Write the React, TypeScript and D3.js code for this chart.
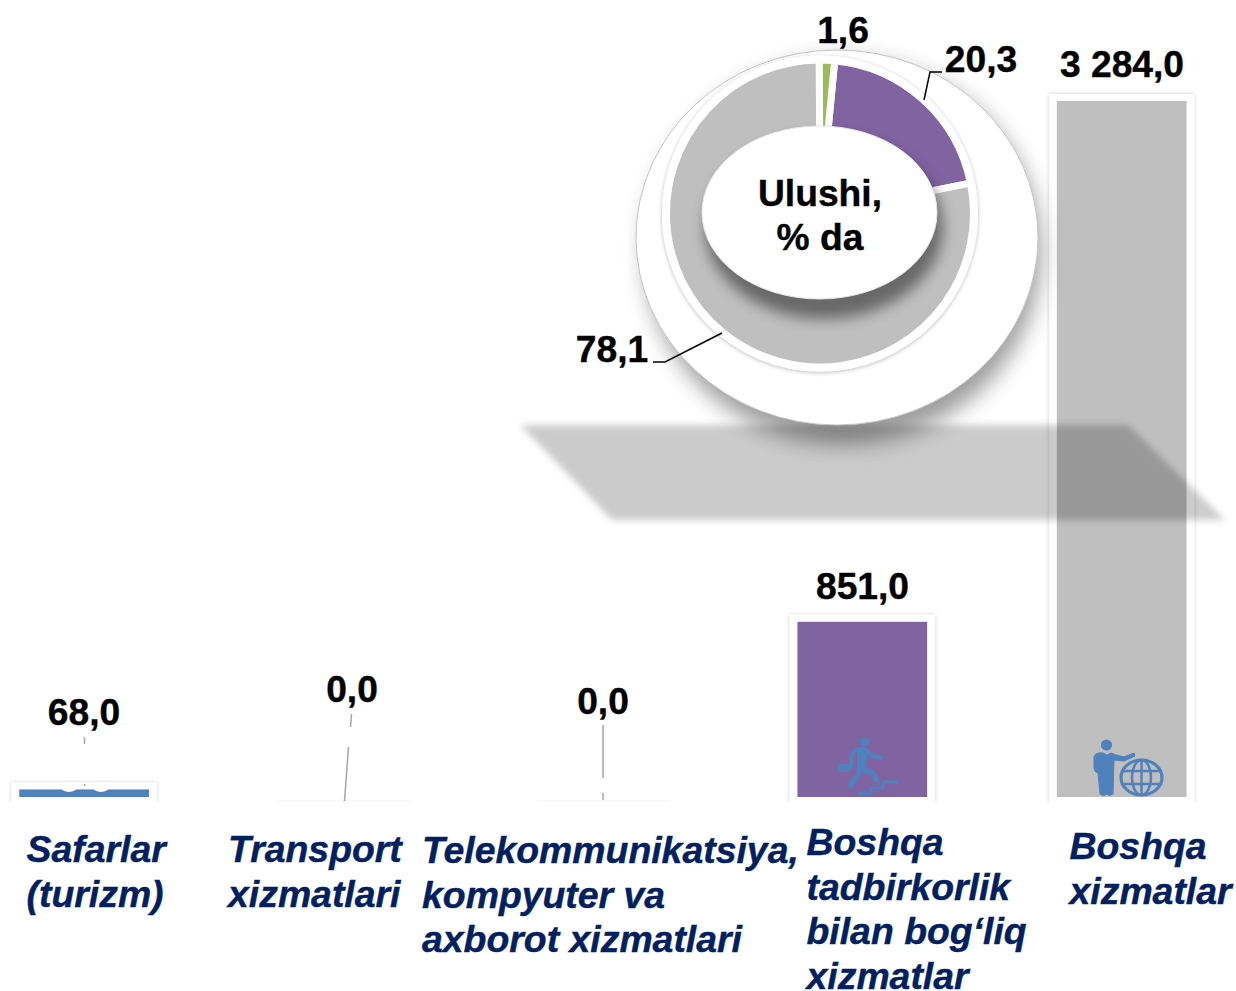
import React from "react";
import * as d3 from "d3";

const categories = ["Safarlar (turizm)", "Transport xizmatlari", "Telekommunikatsiya, kompyuter va axborot xizmatlari", "Boshqa tadbirkorlik bilan bog‘liq xizmatlar", "Boshqa xizmatlar"];
const values = [68.0, 0.0, 0.0, 851.0, 3284.0];
const valueLabels = ["68,0", "0,0", "0,0", "851,0", "3 284,0"];
const barColors = ["#4F81BD", "#BFBFBF", "#BFBFBF", "#8064A2", "#BFBFBF"];
const categoryLines = [["Safarlar", "(turizm)"], ["Transport", "xizmatlari"], ["Telekommunikatsiya,", "kompyuter va", "axborot xizmatlari"], ["Boshqa", "tadbirkorlik", "bilan bog‘liq", "xizmatlar"], ["Boshqa", "xizmatlar"]];
const shareNames = ["Boshqa tadbirkorlik", "Boshqa xizmatlar", "Safarlar"];
const shareValues = [20.3, 78.1, 1.6];
const shareColors = ["#8064A2", "#BFBFBF", "#9BBB59"];

const FONT = "'Liberation Sans', Arial, sans-serif";
const x = d3.scaleBand<string>().domain(categories).range([-45.6, 1251.4]).paddingInner(0.5).paddingOuter(0.25);
const y = d3.scaleLinear().domain([0, 3284]).range([804, 101]);
const pie = d3.pie<number>().sort(null).startAngle((5.5 * Math.PI) / 180).endAngle((365.5 * Math.PI) / 180);
const arc = d3.arc<d3.PieArcDatum<number>>().innerRadius(70).outerRadius(153.5);

const labelX = [84, 352, 603, 862.5, 1122];
const labelY = [725, 702, 714, 599, 77];
const catX = [26.5, 228, 422, 806.5, 1069.5];
const catY = [862, 862, 863, 855, 859];

export default function App() {
  const arcs = pie(shareValues);
  return (
    <svg width={1236} height={991} style={{ position: "absolute", left: 0, top: 0, background: "#fff" }} fontFamily={FONT}>
      <defs>
        <clipPath id="barClip"><rect x={0} y={0} width={1236} height={797} /></clipPath>
        <clipPath id="frameClip"><rect x={0} y={0} width={1236} height={802} /></clipPath>
        <filter id="frameShadow" x="-20%" y="-5%" width="140%" height="110%"><feDropShadow dx={0} dy={0} stdDeviation={2.2} floodColor="#000" floodOpacity={0.2} /></filter>
        <filter id="blurPlane" x="-5%" y="-15%" width="110%" height="130%"><feGaussianBlur stdDeviation={3.5} /></filter>
        <filter id="blurDisc" x="-20%" y="-20%" width="140%" height="140%"><feGaussianBlur stdDeviation={11} /></filter>
        <filter id="blurHole" x="-20%" y="-30%" width="140%" height="160%"><feGaussianBlur stdDeviation={7} /></filter>
        <filter id="rimShadow" x="-10%" y="-10%" width="120%" height="120%"><feDropShadow dx={0} dy={1} stdDeviation={2} floodColor="#000" floodOpacity={0.28} /></filter>
        <clipPath id="ringClip"><circle cx={820} cy={213.5} r={150} /></clipPath>
      </defs>

      <g clipPath="url(#frameClip)">
        {categories.map((c, i) => values[i] > 0 ? (
          <rect key={c} x={x(c)! - 7.5} y={y(values[i]) - 7} width={x.bandwidth() + 15} height={804 - y(values[i]) + 20} fill="#fff" filter="url(#frameShadow)" />
        ) : (
          <rect key={c} x={x(c)! - 1} y={800} width={x.bandwidth() + 2} height={2} fill="#f9f9f9" />
        ))}
      </g>
      <g clipPath="url(#barClip)">
        {categories.map((c, i) => (
          <rect key={c} x={x(c)!} y={y(values[i])} width={x.bandwidth()} height={804 - y(values[i])} fill={barColors[i]} />
        ))}
      </g>
      <ellipse cx={69} cy={787} rx={8} ry={5} fill="#fff" />
      <ellipse cx={101} cy={787} rx={8} ry={5} fill="#fff" />

      {/* icon: person climbing stairs */}
      <g fill="#4F81BD" stroke="#4F81BD" strokeLinecap="round" strokeLinejoin="round">
        <circle cx={864.5} cy={742} r={4.6} stroke="none" />
        <path d="M851 768 V758 Q853 749 860 749 L865 749 L873 756 L881 758" fill="none" strokeWidth={4} />
        <path d="M858 750 L867 750 L865 770 L858 770Z" strokeWidth={2} />
        <path d="M861 770 L856 778 L850 786" fill="none" strokeWidth={5} />
        <path d="M863 770 L872 772 L877 780" fill="none" strokeWidth={5} />
        <rect x={838.5} y={764} width={11} height={8} rx={1} stroke="none" />
        <path d="M860 793.5 H871 V788 H883 V782 H897" fill="none" strokeWidth={3} />
      </g>
      {/* icon: person with globe */}
      <g fill="#4F81BD" stroke="#4F81BD" strokeLinecap="round" strokeLinejoin="round">
        <circle cx={1106.5} cy={745} r={5.6} stroke="none" />
        <path d="M1096 754 Q1100 752 1103 753 L1107 755 L1111 753 L1116 755 L1124 757 L1134 753 L1135 756 L1124 761 L1114 760 L1113 794 Q1109 797 1107 794 Q1103 797 1100 794 L1098 773 Q1094 772 1094 768 L1094 757Z" strokeWidth={1} />
        <g fill="none" strokeWidth={2.4}>
          <ellipse cx={1141.5} cy={777.5} rx={20.5} ry={17.5} strokeWidth={3.2} />
          <ellipse cx={1141.5} cy={777.5} rx={9.5} ry={17.5} />
          <path d="M1141.5 760 V795 M1122 771 H1161 M1122 784 H1161" />
        </g>
      </g>

      {/* disc and its cast shadow, then the translucent floor plane */}
      <path d="M520 425 H1128 L1225 520 H612 Z" fill="#000" opacity={0.2} filter="url(#blurPlane)" />
      <ellipse cx={843} cy={252} rx={198} ry={192} fill="#000" opacity={0.38} filter="url(#blurDisc)" />
      <ellipse cx={837} cy={237.5} rx={201} ry={187.5} fill="#fff" stroke="#c4c4c4" strokeWidth={1} />
      <circle cx={820} cy={213.5} r={158} fill="#fff" filter="url(#rimShadow)" />

      <g transform="translate(820,213.5)">
        {arcs.map((a, i) => (
          <path key={shareNames[i]} d={arc(a) ?? ""} fill={shareColors[i]} stroke="#fff" strokeWidth={7} strokeLinejoin="miter" />
        ))}
      </g>
      <g clipPath="url(#ringClip)">
        <ellipse cx={824} cy={227} rx={119} ry={92} fill="#000" opacity={0.45} filter="url(#blurHole)" />
      </g>
      <ellipse cx={819.5} cy={212.5} rx={117.5} ry={86.5} fill="#fff" stroke="#e6e6e6" strokeWidth={1} />
      <g stroke="#000" strokeWidth={0.4}>
        <text x={820} y={206} textAnchor="middle" fontSize={37.2} fontWeight={700} fill="#000">Ulushi,</text>
        <text x={820} y={250} textAnchor="middle" fontSize={37.2} fontWeight={700} fill="#000">% da</text>
      </g>

      {/* leader lines */}
      <path d="M653 362 H665 L722 333" fill="none" stroke="#000" strokeWidth={1.5} />
      <path d="M942 72 H930 L924 100" fill="none" stroke="#000" strokeWidth={1.5} />
      <g fill="none" stroke="#a6a6a6" strokeWidth={1.5}>
        <path d="M84.5 737 V744 M84.5 784 V786" />
        <path d="M351.5 714 L350.5 727 M348.5 747 L344.5 801" />
        <path d="M603 725 V778 M603 793 V800" />
      </g>

      {/* value labels */}
      <g stroke="#000" strokeWidth={0.4} fontSize={37.2} fontWeight={700} fill="#000" textAnchor="middle">
        <text x={843} y={43}>1,6</text>
        <text x={981} y={72}>20,3</text>
        <text x={612} y={362}>78,1</text>
        {valueLabels.map((t, i) => (
          <text key={i} x={labelX[i]} y={labelY[i]}>{t}</text>
        ))}
      </g>
      {categoryLines.map((lines, i) => (
        <text key={i} fontSize={37.4} fontWeight={700} fontStyle="italic" fill="#002060" stroke="#002060" strokeWidth={0.4}>
          {lines.map((l, j) => (
            <tspan key={j} x={catX[i]} y={catY[i] + j * 44.7}>{l}</tspan>
          ))}
        </text>
      ))}
    </svg>
  );
}
